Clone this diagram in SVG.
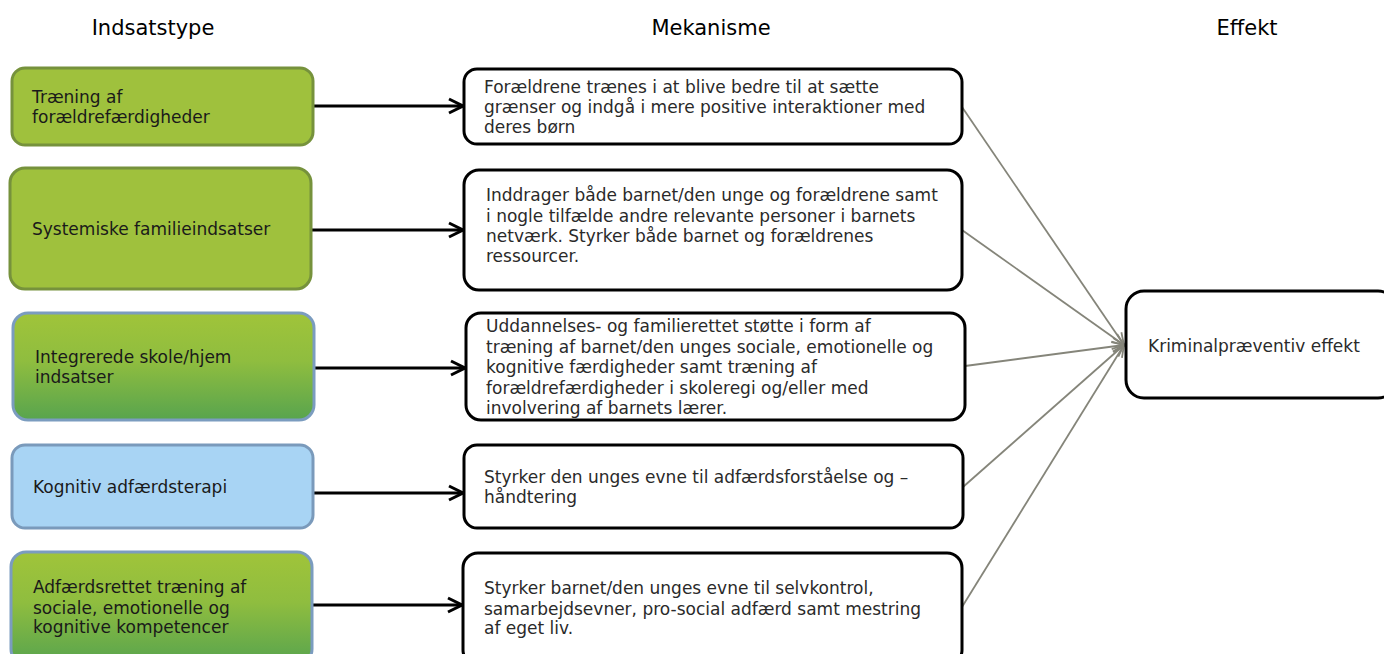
<svg xmlns="http://www.w3.org/2000/svg" width="1384" height="654" viewBox="0 0 1384 654">
<defs>
<linearGradient id="gg" x1="0" y1="0" x2="0" y2="1">
<stop offset="0" stop-color="#a0c43a"/>
<stop offset="0.45" stop-color="#8fbd3f"/>
<stop offset="1" stop-color="#58a44e"/>
</linearGradient>
<marker id="ah" markerUnits="userSpaceOnUse" markerWidth="20" markerHeight="20" viewBox="0 0 20 20" refX="17" refY="10" orient="auto">
<path d="M3,3 L17,10 L3,17" fill="none" stroke="#000" stroke-width="3" stroke-linejoin="miter"/>
</marker>
<marker id="gh" markerUnits="userSpaceOnUse" markerWidth="16" markerHeight="16" viewBox="0 0 16 16" refX="14" refY="8" orient="auto">
<path d="M2,3 L14,8 L2,13" fill="none" stroke="#85857a" stroke-width="1.8"/>
</marker>
</defs>
<style>
text{font-family:"DejaVu Sans","Liberation Sans",sans-serif;}
.hd{font-size:21px;fill:#000;}
.t{font-size:17px;fill:#2a2a2a;}
.lt{font-size:17px;fill:#1a1a1a;}
.gs{fill:#9fc13d;stroke:#76923c;stroke-width:3;}
.gg{fill:url(#gg);stroke:#7b9cbf;stroke-width:3;}
.bl{fill:#a8d4f4;stroke:#7a9abb;stroke-width:3;}
.mb{fill:#fff;stroke:#000;stroke-width:3;}
.ba{stroke:#000;stroke-width:3;fill:none;marker-end:url(#ah);}
.ga{stroke:#85857a;stroke-width:1.8;fill:none;marker-end:url(#gh);}
</style>

<g id="headers">
<text class="hd" x="153" y="35" text-anchor="middle">Indsatstype</text>
<text class="hd" x="711" y="35" text-anchor="middle">Mekanisme</text>
<text class="hd" x="1247" y="35" text-anchor="middle">Effekt</text>
</g>

<g id="connectors">
<line class="ba" x1="313" y1="106" x2="463" y2="106"/>
<line class="ba" x1="311" y1="230" x2="463" y2="230"/>
<line class="ba" x1="314" y1="368" x2="465" y2="368"/>
<line class="ba" x1="313" y1="493" x2="463" y2="493"/>
<line class="ba" x1="312" y1="605" x2="462" y2="605"/>
<line class="ga" x1="962" y1="107" x2="1124" y2="345"/>
<line class="ga" x1="962" y1="230" x2="1124" y2="345"/>
<line class="ga" x1="965" y1="366" x2="1124" y2="345"/>
<line class="ga" x1="963" y1="487" x2="1124" y2="345"/>
<line class="ga" x1="962" y1="607" x2="1124" y2="345"/>
</g>

<g id="i1">
<rect class="gs" x="12" y="68" width="301" height="77" rx="13"/>
<text class="lt" x="32" y="103">Træning af</text>
<text class="lt" x="32" y="123">forældrefærdigheder</text>
</g>
<g id="i2">
<rect class="gs" x="10" y="168" width="301" height="121" rx="15"/>
<text class="lt" x="32" y="235">Systemiske familieindsatser</text>
</g>
<g id="i3">
<rect class="gg" x="13" y="313" width="301" height="107" rx="15"/>
<text class="lt" x="35" y="363">Integrerede skole/hjem</text>
<text class="lt" x="35" y="383">indsatser</text>
</g>
<g id="i4">
<rect class="bl" x="12" y="445" width="301" height="83" rx="13"/>
<text class="lt" x="33" y="493">Kognitiv adfærdsterapi</text>
</g>
<g id="i5">
<rect class="gg" x="11" y="552" width="301" height="112" rx="15"/>
<text class="lt" x="33" y="593">Adfærdsrettet træning af</text>
<text class="lt" x="33" y="614">sociale, emotionelle og</text>
<text class="lt" x="33" y="633">kognitive kompetencer</text>
</g>

<g id="m1">
<rect class="mb" x="464" y="69" width="498" height="75" rx="13"/>
<text class="t" x="484" y="93">Forældrene trænes i at blive bedre til at sætte</text>
<text class="t" x="484" y="113">grænser og indgå i mere positive interaktioner med</text>
<text class="t" x="484" y="133">deres børn</text>
</g>
<g id="m2">
<rect class="mb" x="464" y="170" width="498" height="120" rx="15"/>
<text class="t" x="486" y="201">Inddrager både barnet/den unge og forældrene samt</text>
<text class="t" x="486" y="222">i nogle tilfælde andre relevante personer i barnets</text>
<text class="t" x="486" y="242">netværk. Styrker både barnet og forældrenes</text>
<text class="t" x="486" y="262">ressourcer.</text>
</g>
<g id="m3">
<rect class="mb" x="466" y="313" width="499" height="107" rx="15"/>
<text class="t" x="486" y="332">Uddannelses- og familierettet støtte i form af</text>
<text class="t" x="486" y="353">træning af barnet/den unges sociale, emotionelle og</text>
<text class="t" x="486" y="373">kognitive færdigheder samt træning af</text>
<text class="t" x="486" y="394">forældrefærdigheder i skoleregi og/eller med</text>
<text class="t" x="486" y="414">involvering af barnets lærer.</text>
</g>
<g id="m4">
<rect class="mb" x="464" y="445" width="499" height="83" rx="13"/>
<text class="t" x="484" y="483">Styrker den unges evne til adfærdsforståelse og –</text>
<text class="t" x="484" y="503">håndtering</text>
</g>
<g id="m5">
<rect class="mb" x="463" y="553" width="499" height="112" rx="15"/>
<text class="t" x="484" y="594">Styrker barnet/den unges evne til selvkontrol,</text>
<text class="t" x="484" y="615">samarbejdsevner, pro-social adfærd samt mestring</text>
<text class="t" x="484" y="634">af eget liv.</text>
</g>

<g id="effect">
<rect class="mb" x="1126" y="291" width="270" height="107" rx="18"/>
<text class="t" x="1148" y="352">Kriminalpræventiv effekt</text>
</g>
</svg>
